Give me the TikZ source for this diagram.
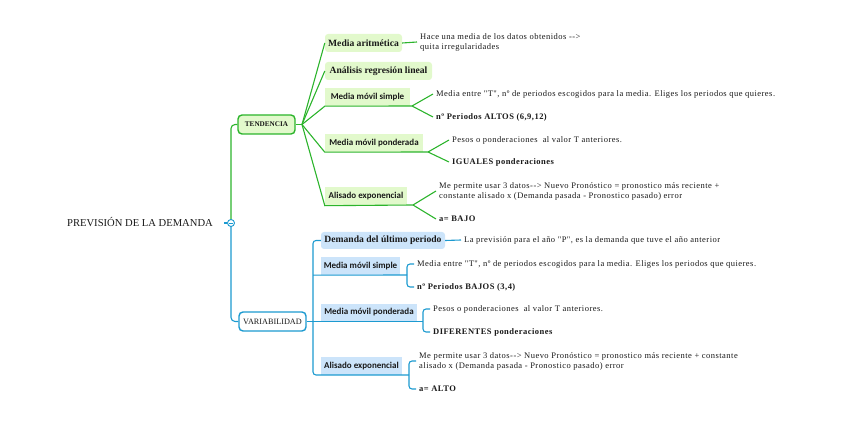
\documentclass[tikz,border=0pt]{standalone}
\usepackage{fontspec}
\setmainfont{Liberation Serif}
\newfontfamily\handfont{Carlito}
\newfontfamily\notefont[LetterSpace=5.5]{Liberation Serif}
\usepackage{tikz}
\usepackage{xcolor}
\definecolor{tgreen}{RGB}{44,180,44}
\definecolor{tfill}{RGB}{226,249,204}
\definecolor{vblue}{RGB}{28,154,208}
\definecolor{vfill}{RGB}{204,228,250}
\definecolor{ink}{RGB}{25,25,25}

\begin{document}
\begin{tikzpicture}[x=1pt, y=-1pt, every node/.style = {text=ink},
  gline/.style = {draw=tgreen, line width=1.1pt},
  bline/.style = {draw=vblue, line width=1.1pt, rounded corners=3pt},
  maintopic/.style = {shape=rectangle, rounded corners=4pt, line width=1.4pt,
    minimum height=19pt, inner sep=0pt},
  gtopic/.style = {fill=tfill, rounded corners=3pt, minimum height=18pt,
    inner sep=0pt, font=\fontsize{9.6}{10}\selectfont\bfseries},
  btopic/.style = {fill=vfill, rounded corners=3pt, minimum height=17pt,
    inner sep=0pt, font=\fontsize{9.6}{10}\selectfont\bfseries},
  hand/.style = {rounded corners=0pt, font=\handfont\fontsize{9}{10}\selectfont\bfseries},
  note/.style = {anchor=west, align=left, inner xsep=3pt, inner ysep=0pt,
    font=\notefont\fontsize{8.5}{10}\selectfont},
  strong/.style = {note, font=\notefont\fontsize{8.5}{10}\selectfont\bfseries},
  fold/.style = {circle, draw=vblue, fill=white, line width=0.9pt, minimum size=7pt,
    inner sep=0pt, path picture={\draw[vblue, line width=0.8pt]
      ([xshift=-2pt]path picture bounding box.center) --
      ([xshift=2pt]path picture bounding box.center);}}]
  \useasboundingbox (0,0) rectangle (848,427);

  \node[font=\fontsize{10.6}{12}\selectfont] (root) at (140,222) {PREVISIÓN DE LA DEMANDA};
  \coordinate (hub) at (231,223);
  \coordinate (stub) at (224,223);

  \node[maintopic, draw=tgreen, fill=tfill, minimum width=57pt,
    font=\fontsize{7.2}{8}\selectfont\bfseries] (ten) at (266.5,124.5) {TENDENCIA};
  \node[maintopic, draw=vblue, fill=white, minimum width=67pt,
    font=\fontsize{8.2}{9}\selectfont] (var) at (272.5,321.5) {VARIABILIDAD};

  \node[gtopic, minimum width=77pt] (ma) at (363.5,43) {Media aritmética};
  \node[gtopic, minimum width=107pt] (arl) at (378.5,71) {Análisis regresión lineal};
  \node[gtopic, hand, minimum width=85pt] (mms1) at (367.5,97) {Media móvil simple};
  \node[gtopic, hand, minimum width=98pt] (mmp1) at (374,143) {Media móvil ponderada};
  \node[gtopic, hand, minimum width=82pt] (ae1) at (366,196.5) {Alisado exponencial};

  \node[btopic, minimum width=124pt] (dup) at (383,240.5) {Demanda del último periodo};
  \node[btopic, hand, minimum height=18pt, minimum width=79pt] (mms2) at (360.5,266) {Media móvil simple};
  \node[btopic, hand, minimum width=96pt] (mmp2) at (369,312.5) {Media móvil ponderada};
  \node[btopic, hand, minimum height=18pt, minimum width=81pt] (ae2) at (361.5,366) {Alisado exponencial};

  \node[note] (maN) at (417,42) {Hace una media de los datos obtenidos -{}->\\quita irregularidades};
  \node[note] (mms1A) at (433,94) {Media entre "T", nº de periodos escogidos para la media. Eliges los periodos que quieres.};
  \node[strong] (mms1B) at (433,117) {nº Periodos ALTOS (6,9,12)};
  \node[note] (mmp1A) at (449,140) {Pesos o ponderaciones \ al valor T anteriores.};
  \node[strong] (mmp1B) at (449,162) {IGUALES ponderaciones};
  \node[note] (ae1A) at (436,191) {Me permite usar 3 datos-{}-> Nuevo Pronóstico = pronostico más reciente +\\constante alisado x (Demanda pasada - Pronostico pasado) error};
  \node[strong] (ae1B) at (436,219) {a= BAJO};

  \node[note] (dupN) at (461,240) {La previsión para el año "P", es la demanda que tuve el año anterior};
  \node[note] (mms2A) at (414,264) {Media entre "T", nº de periodos escogidos para la media. Eliges los periodos que quieres.};
  \node[strong] (mms2B) at (414,287) {nº Periodos BAJOS (3,4)};
  \node[note] (mmp2A) at (430,309) {Pesos o ponderaciones \ al valor T anteriores.};
  \node[strong] (mmp2B) at (430,332) {DIFERENTES ponderaciones};
  \node[note] (ae2A) at (416,361) {Me permite usar 3 datos-{}-> Nuevo Pronóstico = pronostico más reciente + constante\\alisado x (Demanda pasada - Pronostico pasado) error};
  \node[strong] (ae2B) at (416,389) {a= ALTO};

  \coordinate (tfan) at (302,124.5);
  \coordinate (fk1) at (412,106);
  \coordinate (fk2) at (428,152);
  \coordinate (fk3) at (413,205);
  \coordinate (btop) at (313,240.5);
  \coordinate (bbot) at (313,375);
  \coordinate (fk4) at (407,275);
  \coordinate (fk5) at (423,321.5);
  \coordinate (fk6) at (409,375);

  \draw[gline, rounded corners=4pt] (hub) |- (ten.west);
  \draw[bline, rounded corners=4pt] (hub) |- (var.west);
  \draw[gline] (ten.east) -- (tfan);
  \draw[gline] (tfan) -- (ma.west);
  \draw[gline] (tfan) -- (arl.west);
  \draw[gline] (tfan) -- (mms1.south west) -- (fk1) -- (mms1A.west);
  \draw[gline] (fk1) -- (mms1B.west);
  \draw[gline] (tfan) -- (mmp1.south west) -- (fk2) -- (mmp1A.west);
  \draw[gline] (fk2) -- (mmp1B.west);
  \draw[gline] (tfan) -- (ae1.south west) -- (fk3) -- (ae1A.west);
  \draw[gline] (fk3) -- (ae1B.west);
  \draw[gline] (ma.east) -- (maN.west);

  \draw[bline] (dup.west) -- (btop) -- (bbot) -- (fk6);
  \draw[bline] (btop |- mms2.south) -- (fk4);
  \draw[bline] (var.east) -- (fk5);
  \draw[bline] (dup.east) -- (dupN.west);
  \draw[bline] (mms2A.west) -| (fk4) |- (mms2B.west);
  \draw[bline] (mmp2A.west) -| (fk5) |- (mmp2B.west);
  \draw[bline] (ae2A.west) -| (fk6) |- (ae2B.west);

  \node[fold] (knob) at (hub) {};
  \draw[vblue, line width=1.1pt] (stub) -- (knob.west);
\end{tikzpicture}
\end{document}
